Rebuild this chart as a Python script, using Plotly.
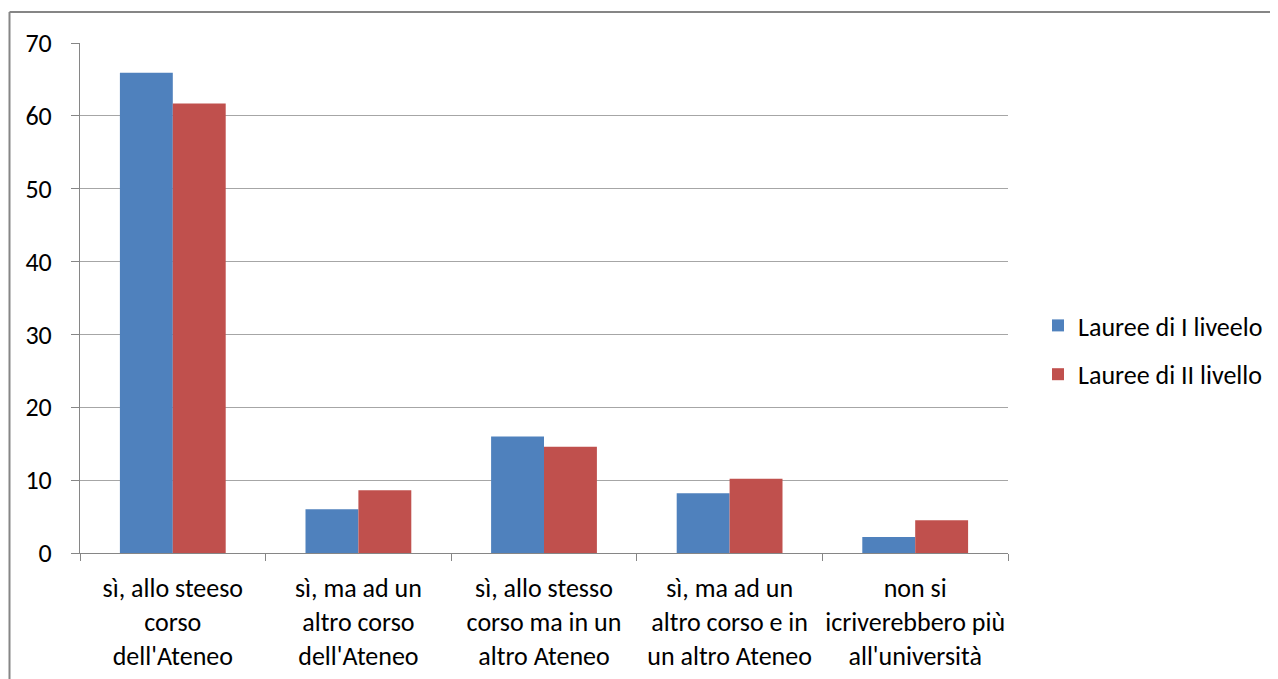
import plotly.graph_objects as go

categories = [
    "sì, allo steeso<br>corso<br>dell'Ateneo",
    "sì, ma ad un<br>altro corso<br>dell'Ateneo",
    "sì, allo stesso<br>corso ma in un<br>altro Ateneo",
    "sì, ma ad un<br>altro corso e in<br>un altro Ateneo",
    "non si<br>icriverebbero più<br>all'università",
]
series1_name = "Lauree di I liveelo"
series1 = [65.9, 6.0, 16.0, 8.2, 2.2]
series2_name = "Lauree di II livello"
series2 = [61.7, 8.6, 14.6, 10.2, 4.5]
y_ticks = [0, 10, 20, 30, 40, 50, 60, 70]

FONT = "Carlito, 'Liberation Sans Narrow', Lato, sans-serif"
FS = 26

fig = go.Figure()
fig.add_trace(go.Bar(x=categories, y=series1, name=series1_name,
                     marker=dict(color="#4F81BD", line=dict(width=0)),
                     legendgroup="a"))
fig.add_trace(go.Bar(x=categories, y=series2, name=series2_name,
                     marker=dict(color="#C0504D", line=dict(width=0)),
                     legendgroup="b"))

# page is offset by 8px body margin; figure coords = page coords - 8
OFF = 8
W, H = 1270, 671
L, T = 80 - OFF, 43 - OFF
R = W - (1008 - OFF)
B = H - (553 - OFF)
pw = W - L - R
ph = H - T - B

def px(x):
    return (x - OFF - L) / pw

def py(y):
    return (H - B - (y - OFF)) / ph

fig.update_layout(
    width=W, height=H,
    margin=dict(l=L, r=R, t=T, b=B, autoexpand=False),
    paper_bgcolor="white", plot_bgcolor="white",
    barmode="group", bargap=0.43, bargroupgap=0,
    font=dict(family=FONT, size=FS, color="#000000"),
    showlegend=True,
    legend=dict(x=px(1038), y=py(350), xanchor="left", yanchor="middle",
                font=dict(family=FONT, size=FS, color="#000000"),
                traceorder="grouped", tracegroupgap=12,
                itemwidth=30, bgcolor="rgba(0,0,0,0)"),
    xaxis=dict(showline=True, linecolor="#868686", linewidth=1,
               ticks="outside", tickson="boundaries", ticklen=7,
               tickcolor="#868686", showgrid=False, ticklabelstandoff=12,
               tickangle=0,
               tickfont=dict(family=FONT, size=FS, color="#000000"),
               automargin=False),
    yaxis=dict(range=[0, 70], tickvals=y_ticks, showline=True,
               linecolor="#868686", linewidth=1, ticks="outside", ticklen=8,
               tickcolor="#868686", showgrid=True, gridcolor="#A6A6A6",
               gridwidth=1, zeroline=False, ticklabelstandoff=14,
               tickfont=dict(family=FONT, size=FS, color="#000000"),
               automargin=False),
    shapes=[
        dict(type="line", xref="paper", yref="paper",
             x0=px(9.5), x1=px(9.5), y0=py(12), y1=py(700),
             line=dict(color="#868686", width=2)),
        dict(type="line", xref="paper", yref="paper",
             x0=px(9.5), x1=px(1300), y0=py(12), y1=py(12),
             line=dict(color="#868686", width=2)),
    ],
)

fig.write_html("out.html")
